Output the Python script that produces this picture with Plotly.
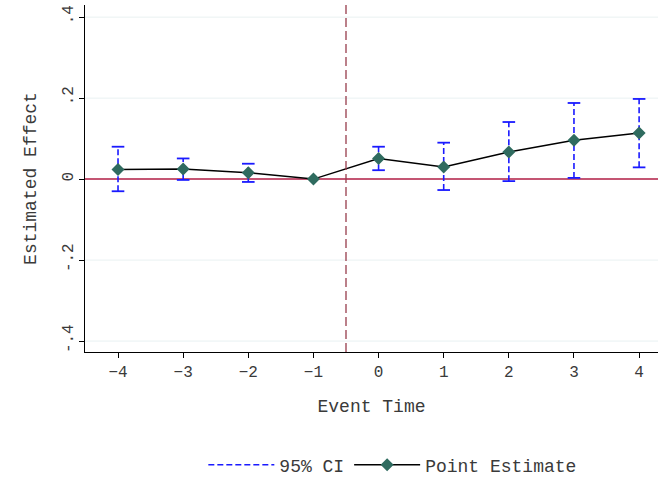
import plotly.graph_objects as go

event_time = [-4, -3, -2, -1, 0, 1, 2, 3, 4]
estimate = [0.024, 0.025, 0.016, 0.0, 0.051, 0.030, 0.067, 0.096, 0.114]
ci_low = [-0.030, -0.002, -0.007, None, 0.022, -0.027, -0.005, 0.003, 0.029]
ci_high = [0.080, 0.051, 0.038, None, 0.080, 0.090, 0.141, 0.188, 0.198]
y_ticks = [-0.4, -0.2, 0, 0.2, 0.4]
y_ticktext = ["-.4", "-.2", "0", ".2", ".4"]
x_ticks = [-4, -3, -2, -1, 0, 1, 2, 3, 4]

FONT = "Liberation Mono"
BLUE = "#1a1aff"
TXT = "#3a3a3a"

ci_x, ci_y, cap_x, cap_y = [], [], [], []
for t, lo, hi in zip(event_time, ci_low, ci_high):
    if lo is None or hi is None:
        continue
    ci_x += [t, t, None]
    ci_y += [lo, hi, None]
    cap_x += [t, t]
    cap_y += [lo, hi]

fig = go.Figure()
fig.add_trace(go.Scatter(x=ci_x, y=ci_y, mode="lines", name="95% CI",
                         line=dict(color=BLUE, width=1.6, dash="6px,3px")))
fig.add_trace(go.Scatter(x=cap_x, y=cap_y, mode="markers", showlegend=False,
                         marker=dict(symbol="line-ew", size=9,
                                     line=dict(color=BLUE, width=1.8))))
fig.add_trace(go.Scatter(x=event_time, y=estimate, mode="lines+markers",
                         name="Point Estimate",
                         line=dict(color="black", width=1.5),
                         marker=dict(symbol="diamond", size=10, color="#2f6b5f")))

# light gridlines (except at zero), then the zero reference line on top of them
for v in y_ticks:
    if v != 0:
        fig.add_shape(type="line", xref="paper", x0=0, x1=1, y0=v, y1=v,
                      line=dict(color="#e9f1f2", width=1), layer="below")
fig.add_shape(type="line", xref="paper", x0=0, x1=1, y0=0, y1=0,
              line=dict(color="#b01c44", width=1.5), layer="below")
fig.add_vline(x=-0.5, line=dict(color="#973c4c", width=1.3, dash="9px,4px"))

fig.update_layout(
    template="none",
    width=658, height=478,
    margin=dict(l=85, r=0, t=5, b=126),
    paper_bgcolor="white", plot_bgcolor="white",
    font=dict(family=FONT, size=16, color=TXT),
    showlegend=True,
    legend=dict(orientation="h", xref="container", yref="container",
                x=0.597, xanchor="center", y=0.027, yanchor="middle",
                font=dict(size=18, color=TXT), itemwidth=66,
                bgcolor="rgba(0,0,0,0)"),
)
fig.update_xaxes(
    range=[-4.507, 4.29], tickvals=x_ticks, showgrid=False, zeroline=False,
    showline=True, linecolor="black", linewidth=1, ticks="outside",
    ticklen=5, tickcolor="black", automargin=False,
    title=dict(text="Event Time", font=dict(size=18, color=TXT), standoff=18),
)
fig.update_yaxes(
    range=[-0.427, 0.43], tickvals=y_ticks, ticktext=y_ticktext, tickangle=-90,
    showgrid=False, zeroline=False,
    showline=True, linecolor="black", linewidth=1, ticks="outside",
    ticklen=5, tickcolor="black", automargin=False,
    title=dict(text="Estimated Effect", font=dict(size=18, color=TXT), standoff=18),
)

fig.write_html("out.html", config={"displayModeBar": False},
               post_script="document.body.style.margin='0';")
